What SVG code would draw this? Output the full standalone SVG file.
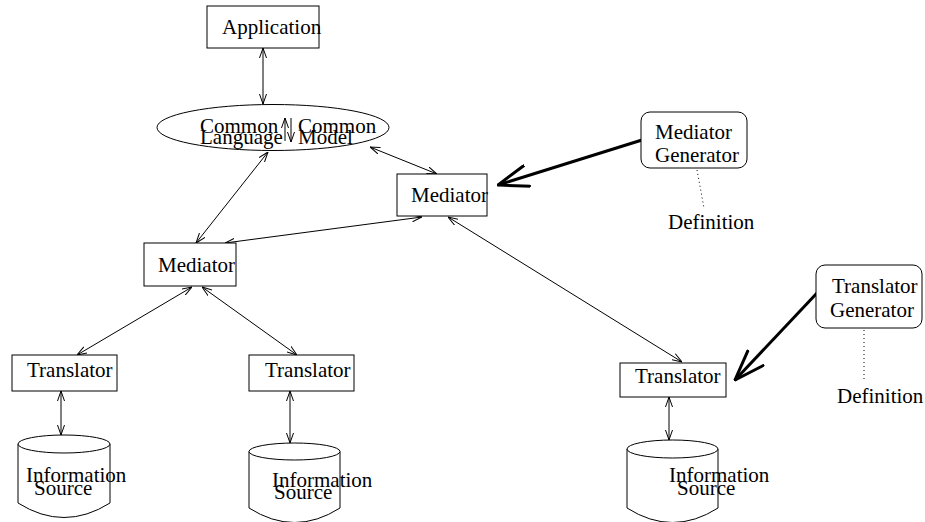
<svg xmlns="http://www.w3.org/2000/svg" width="925" height="522" viewBox="0 0 925 522">
  <defs>
    <marker id="tip" viewBox="0 0 10 8" refX="10" refY="4" markerWidth="10" markerHeight="8" markerUnits="userSpaceOnUse" orient="auto-start-reverse">
      <path d="M0,0.5 L10,4 L0,7.5" fill="none" stroke="#000" stroke-width="1"/>
    </marker>
    <marker id="bigtip" viewBox="0 0 32 24" refX="31" refY="12" markerWidth="32" markerHeight="24" markerUnits="userSpaceOnUse" orient="auto">
      <path d="M0,1 L31,12 L0,23" fill="none" stroke="#000" stroke-width="3"/>
    </marker>
  </defs>
  <style>
    .box { fill: #fff; stroke: #000; stroke-width: 1; }
    .lbl { font-family: "Liberation Serif", "Times New Roman", serif; font-size: 21px; fill: #000; }
    .link { stroke: #000; stroke-width: 1; fill: none; marker-start: url(#tip); marker-end: url(#tip); }
    .one { stroke: #000; stroke-width: 1; fill: none; marker-end: url(#tip); }
    .thick { stroke: #000; stroke-width: 3; fill: none; marker-end: url(#bigtip); }
    .dot { stroke: #000; stroke-width: 1; fill: none; stroke-dasharray: 1 3; }
  </style>
  <rect width="925" height="522" fill="#fff"/>

  <g id="connectors">
    <line class="link" x1="263" y1="48" x2="263" y2="104"/>
    <line class="link" x1="268" y1="152" x2="196" y2="243"/>
    <line class="link" x1="370" y1="147" x2="437" y2="174"/>
    <line class="link" x1="225" y1="243" x2="422" y2="217"/>
    <line class="link" x1="448" y1="217" x2="682" y2="362"/>
    <line class="link" x1="192" y1="287" x2="77" y2="355"/>
    <line class="link" x1="202" y1="287" x2="297" y2="355"/>
    <line class="link" x1="61" y1="391" x2="61" y2="435"/>
    <line class="link" x1="290" y1="391" x2="290" y2="443"/>
    <line class="link" x1="669" y1="397" x2="669" y2="440"/>
    <line class="thick" x1="642" y1="140" x2="498" y2="185"/>
    <line class="thick" x1="817" y1="293" x2="735" y2="380"/>
    <line class="dot" x1="697" y1="170" x2="704" y2="208"/>
    <line class="dot" x1="864" y1="330" x2="864" y2="382"/>
  </g>

  <g id="application">
    <rect class="box" x="207" y="6" width="112" height="42"/>
    <text class="lbl" x="222" y="34">Application</text>
  </g>

  <g id="common">
    <ellipse class="box" cx="273" cy="127.5" rx="116" ry="23"/>
    <text class="lbl" x="200" y="133">Common</text>
    <text class="lbl" x="200" y="144">Language</text>
    <text class="lbl" x="298" y="133">Common</text>
    <text class="lbl" x="298" y="144">Model</text>
    <line class="one" x1="285" y1="141" x2="285" y2="118"/>
    <line class="one" x1="291" y1="118" x2="291" y2="142"/>
  </g>

  <g id="mediator-top">
    <rect class="box" x="397" y="174" width="90" height="42"/>
    <text class="lbl" x="411" y="202">Mediator</text>
  </g>

  <g id="mediator-left">
    <rect class="box" x="144" y="243" width="92" height="43"/>
    <text class="lbl" x="158" y="272">Mediator</text>
  </g>

  <g id="mediator-generator">
    <rect class="box" x="641" y="112" width="106" height="56" rx="9" ry="9"/>
    <text class="lbl" x="655" y="139">Mediator</text>
    <text class="lbl" x="655" y="162">Generator</text>
  </g>
  <g id="mediator-definition">
    <text class="lbl" x="668" y="229">Definition</text>
  </g>

  <g id="translator-generator">
    <rect class="box" x="816" y="265" width="106" height="63" rx="9" ry="9"/>
    <text class="lbl" x="832" y="293">Translator</text>
    <text class="lbl" x="830" y="317">Generator</text>
  </g>
  <g id="translator-definition">
    <text class="lbl" x="837" y="403">Definition</text>
  </g>

  <g id="translator-1">
    <rect class="box" x="12" y="355" width="105" height="36"/>
    <text class="lbl" x="27" y="377">Translator</text>
  </g>
  <g id="translator-2">
    <rect class="box" x="249" y="355" width="105" height="36"/>
    <text class="lbl" x="265" y="377">Translator</text>
  </g>
  <g id="translator-3">
    <rect class="box" x="620" y="363" width="106" height="34"/>
    <text class="lbl" x="635" y="383">Translator</text>
  </g>

  <g id="source-1">
    <path class="box" d="M18,444 L18,503 Q64,532 110,503 L110,444"/>
    <ellipse class="box" cx="64" cy="444" rx="46" ry="9"/>
    <text class="lbl" x="26" y="482">Information</text>
    <text class="lbl" x="34" y="495">Source</text>
  </g>
  <g id="source-2">
    <path class="box" d="M249,451.5 L249,508 Q294.5,537 340,508 L340,451.5"/>
    <ellipse class="box" cx="294.5" cy="451.5" rx="45.5" ry="8.5"/>
    <text class="lbl" x="272" y="487">Information</text>
    <text class="lbl" x="274" y="499">Source</text>
  </g>
  <g id="source-3">
    <path class="box" d="M627,449 L627,508 Q672.5,537 718,508 L718,449"/>
    <ellipse class="box" cx="672.5" cy="449" rx="45.5" ry="9"/>
    <text class="lbl" x="669" y="482">Information</text>
    <text class="lbl" x="677" y="495">Source</text>
  </g>
</svg>
